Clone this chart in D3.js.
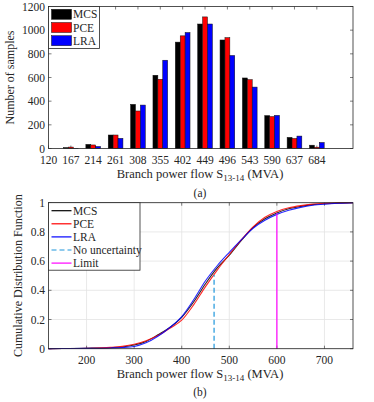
<!DOCTYPE html>
<html>
<head>
<meta charset="utf-8">
<script src="https://cdn.jsdelivr.net/npm/d3@7"></script>
<style>
    body{margin:0;background:#fff;}
    svg text{font-family:"Liberation Serif","Times New Roman",serif;fill:#262626;}
</style>
</head>
<body>
<div id="chart"></div>
<script>
// histogram (a)
var categories = [120,167,214,261,308,355,402,449,496,543,590,637,684];
var mcsCounts = [0,8,35,114,373,619,899,1052,917,596,278,94,28];
var pceCounts = [0,12,30,114,317,585,952,1112,937,582,270,85,11];
var lraCounts = [0,2,17,86,367,746,980,1052,786,519,280,105,51];
var countTicks = [0,200,400,600,800,1000,1200];

// cdf (b)
var flowPoints = [120,150,200,250,275,300,325,350,375,400,425,450,475,500,525,550,575,600,625,650,675,700,730,760];
var mcsCdf = [0,0.001,0.003,0.007,0.012,0.025,0.05,0.095,0.145,0.215,0.32,0.445,0.555,0.64,0.74,0.83,0.89,0.93,0.958,0.975,0.987,0.993,0.997,1.0];
var pceCdf = [0,0.001,0.003,0.009,0.016,0.03,0.055,0.09,0.14,0.195,0.3,0.425,0.54,0.645,0.745,0.835,0.9,0.94,0.965,0.98,0.99,0.996,0.999,1.0];
var lraCdf = [0,0.001,0.002,0.005,0.008,0.015,0.04,0.085,0.145,0.22,0.335,0.465,0.57,0.66,0.745,0.825,0.88,0.92,0.948,0.968,0.982,0.99,0.996,1.0];
var flowTicks = [200,300,400,500,600,700];
var cdfTicks = [0,0.2,0.4,0.6,0.8,1];
var noUncertainty = {x:468, y:0.504};
var limitLine = {x:600, y:0.927};

var axisColor = "#262626";
var svg = d3.select("#chart").append("svg")
    .attr("width",374)
    .attr("height",402);

function xLabel(g, x, y){
    var t = g.append("text")
        .attr("x",x).attr("y",y)
        .attr("text-anchor","middle")
        .attr("font-size","12.5px");
    t.append("tspan").text("Branch power flow S");
    t.append("tspan").text("13-14").attr("font-size","9px").attr("dy",3);
    t.append("tspan").text(" (MVA)").attr("dy",-3);
}

function frame(g, x, y){
    var x0 = x.range()[0], x1 = x.range()[1], y0 = y.range()[0], y1 = y.range()[1];
    g.append("rect")
        .attr("x",x0).attr("y",y1)
        .attr("width",x1-x0).attr("height",y0-y1)
        .attr("fill","none")
        .attr("stroke",axisColor)
        .attr("stroke-width",0.8);
}

/* ---------- (a) bars ---------- */
var xa = d3.scaleLinear().domain([120,760]).range([48.5,353]);
var ya = d3.scaleLinear().domain([0,1200]).range([148.5,6.5]);
var ga = svg.append("g");

ga.selectAll(".xt").data(categories).enter()
    .append("g")
    .each(function(d){
        d3.select(this).append("line")
            .attr("x1",xa(d)).attr("x2",xa(d))
            .attr("y1",148.5).attr("y2",145.5)
            .attr("stroke",axisColor).attr("stroke-width",0.6);
        d3.select(this).append("line")
            .attr("x1",xa(d)).attr("x2",xa(d))
            .attr("y1",6.5).attr("y2",9.5)
            .attr("stroke",axisColor).attr("stroke-width",0.6);
        d3.select(this).append("text")
            .attr("x",xa(d)).attr("y",164)
            .attr("text-anchor","middle")
            .attr("font-size","11.5px")
            .text(d);
    });

ga.selectAll(".yt").data(countTicks).enter()
    .append("g")
    .each(function(d){
        d3.select(this).append("line")
            .attr("x1",48.5).attr("x2",51.5)
            .attr("y1",ya(d)).attr("y2",ya(d))
            .attr("stroke",axisColor).attr("stroke-width",0.6);
        d3.select(this).append("line")
            .attr("x1",353).attr("x2",350)
            .attr("y1",ya(d)).attr("y2",ya(d))
            .attr("stroke",axisColor).attr("stroke-width",0.6);
        d3.select(this).append("text")
            .attr("x",45).attr("y",ya(d)+4)
            .attr("text-anchor","end")
            .attr("font-size","11.5px")
            .text(d);
    });

var barW = 10.3;
var series = [
    {name:"MCS", values:mcsCounts, color:"#000000", off:-barW},
    {name:"PCE", values:pceCounts, color:"#ff0000", off:0},
    {name:"LRA", values:lraCounts, color:"#0000ff", off:barW}
];
series.forEach(function(s){
    ga.selectAll(".bar-"+s.name)
        .data(categories)
        .enter()
        .append("rect")
        .attr("x",function(d){ return xa(d+s.off-barW/2); })
        .attr("width",function(d){ return xa(d+barW/2)-xa(d-barW/2); })
        .attr("y",function(d,i){ return ya(s.values[i]); })
        .attr("height",function(d,i){ return ya(0)-ya(s.values[i]); })
        .attr("fill",s.color)
        .attr("stroke","#111")
        .attr("stroke-width",0.5);
});

frame(ga, xa, ya);

ga.append("text")
    .attr("transform","translate(14,"+(ya(600))+") rotate(-90)")
    .attr("text-anchor","middle")
    .attr("font-size","12px")
    .text("Number of samples");
xLabel(ga, 200, 178);
ga.append("text")
    .attr("x",200).attr("y",197)
    .attr("text-anchor","middle")
    .attr("font-size","11.5px")
    .text("(a)");

// legend (a)
var lega = ga.append("g");
lega.append("rect")
    .attr("x",48.5).attr("y",6.5)
    .attr("width",51).attr("height",42)
    .attr("fill","#fff")
    .attr("stroke",axisColor).attr("stroke-width",0.8);
series.forEach(function(s,i){
    var cy = 14.3 + i*13.2;
    lega.append("rect")
        .attr("x",51.5).attr("y",cy-5)
        .attr("width",20).attr("height",10)
        .attr("fill",s.color)
        .attr("stroke","#111").attr("stroke-width",0.5);
    lega.append("text")
        .attr("x",73).attr("y",cy+4)
        .attr("font-size","11.5px")
        .text(s.name);
});

/* ---------- (b) cdf ---------- */
var xb = d3.scaleLinear().domain([120,760]).range([48.5,353]);
var yb = d3.scaleLinear().domain([0,1]).range([348.7,202.7]);
var gb = svg.append("g");

gb.selectAll(".gx").data(flowTicks).enter()
    .append("line")
    .attr("x1",function(d){ return xb(d); })
    .attr("x2",function(d){ return xb(d); })
    .attr("y1",202.7).attr("y2",348.7)
    .attr("stroke","#e3e3e3").attr("stroke-width",0.8);
gb.selectAll(".gy").data(cdfTicks).enter()
    .append("line")
    .attr("x1",48.5).attr("x2",353)
    .attr("y1",function(d){ return yb(d); })
    .attr("y2",function(d){ return yb(d); })
    .attr("stroke","#e3e3e3").attr("stroke-width",0.8);

flowTicks.forEach(function(d){
    gb.append("line")
        .attr("x1",xb(d)).attr("x2",xb(d))
        .attr("y1",348.7).attr("y2",345.7)
        .attr("stroke",axisColor).attr("stroke-width",0.6);
    gb.append("line")
        .attr("x1",xb(d)).attr("x2",xb(d))
        .attr("y1",202.7).attr("y2",205.7)
        .attr("stroke",axisColor).attr("stroke-width",0.6);
    gb.append("text")
        .attr("x",xb(d)).attr("y",364)
        .attr("text-anchor","middle")
        .attr("font-size","11.5px")
        .text(d);
});
cdfTicks.forEach(function(d){
    gb.append("line")
        .attr("x1",48.5).attr("x2",51.5)
        .attr("y1",yb(d)).attr("y2",yb(d))
        .attr("stroke",axisColor).attr("stroke-width",0.6);
    gb.append("line")
        .attr("x1",353).attr("x2",350)
        .attr("y1",yb(d)).attr("y2",yb(d))
        .attr("stroke",axisColor).attr("stroke-width",0.6);
    gb.append("text")
        .attr("x",45).attr("y",yb(d)+4)
        .attr("text-anchor","end")
        .attr("font-size","11.5px")
        .text(d);
});

var line = d3.line()
    .x(function(d){ return xb(d[0]); })
    .y(function(d){ return yb(d[1]); })
    .curve(d3.curveMonotoneX);

var curves = [
    {name:"MCS", values:mcsCdf, color:"#000000"},
    {name:"PCE", values:pceCdf, color:"#ff0000"},
    {name:"LRA", values:lraCdf, color:"#0000ff"}
];
curves.forEach(function(c){
    gb.append("path")
        .datum(d3.zip(flowPoints, c.values))
        .attr("d",line)
        .attr("fill","none")
        .attr("stroke",c.color)
        .attr("stroke-width",1.1)
        .attr("opacity",0.85);
});

gb.append("line")
    .attr("x1",xb(noUncertainty.x)).attr("x2",xb(noUncertainty.x))
    .attr("y1",yb(0)).attr("y2",yb(noUncertainty.y))
    .attr("stroke","#1f96dc").attr("stroke-width",1.2)
    .attr("stroke-dasharray","5,3");
gb.append("line")
    .attr("x1",xb(limitLine.x)).attr("x2",xb(limitLine.x))
    .attr("y1",yb(0)).attr("y2",yb(limitLine.y))
    .attr("stroke","#ff00ff").attr("stroke-width",1.2);

frame(gb, xb, yb);

gb.append("text")
    .attr("transform","translate(22,"+(yb(0.5))+") rotate(-90)")
    .attr("text-anchor","middle")
    .attr("font-size","12px")
    .text("Cumulative Distribution Function");
xLabel(gb, 200, 378);
gb.append("text")
    .attr("x",200).attr("y",396)
    .attr("text-anchor","middle")
    .attr("font-size","11.5px")
    .text("(b)");

// legend (b)
var legItems = [
    {name:"MCS", color:"#000000", dash:null},
    {name:"PCE", color:"#ff0000", dash:null},
    {name:"LRA", color:"#0000ff", dash:null},
    {name:"No uncertainty", color:"#1f96dc", dash:"5,3"},
    {name:"Limit", color:"#ff00ff", dash:null}
];
var legb = gb.append("g");
legb.append("rect")
    .attr("x",48.5).attr("y",202.7)
    .attr("width",91.5).attr("height",67.5)
    .attr("fill","#fff")
    .attr("stroke",axisColor).attr("stroke-width",0.8);
legItems.forEach(function(it,i){
    var cy = 210.7 + i*13.1;
    legb.append("line")
        .attr("x1",51.5).attr("x2",71.5)
        .attr("y1",cy).attr("y2",cy)
        .attr("stroke",it.color).attr("stroke-width",1.2)
        .attr("stroke-dasharray",it.dash);
    legb.append("text")
        .attr("x",73).attr("y",cy+4)
        .attr("font-size","11.5px")
        .text(it.name);
});
</script>
</body>
</html>
